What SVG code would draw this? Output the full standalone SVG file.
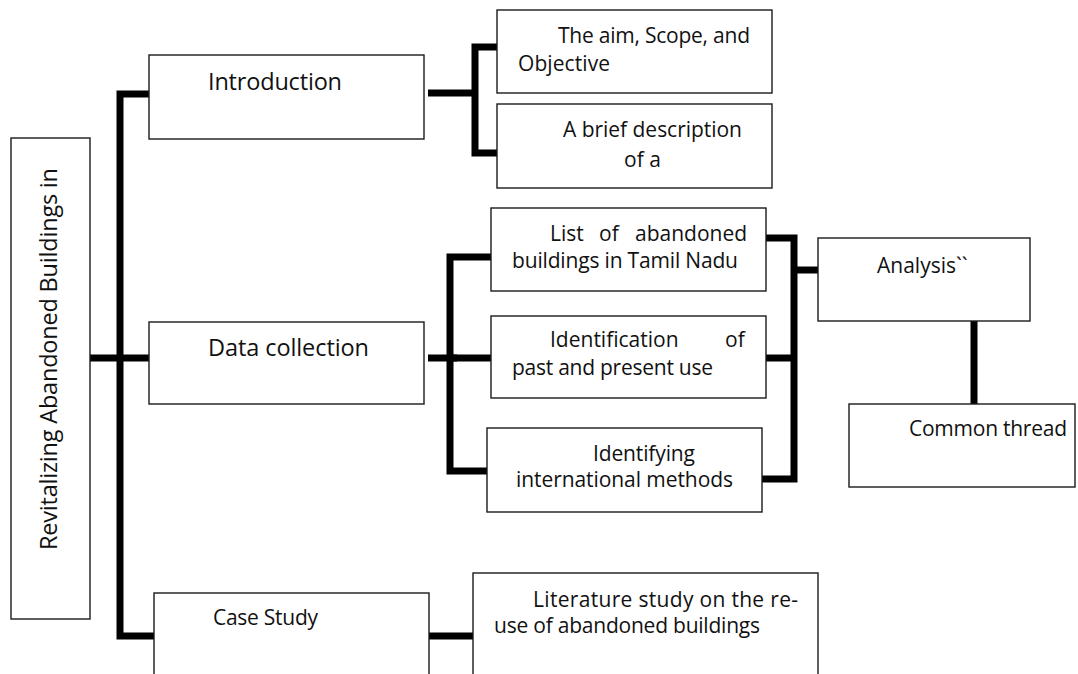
<svg xmlns="http://www.w3.org/2000/svg" width="1078" height="674" viewBox="0 0 1078 674">
<style>
.box{fill:#fff;stroke:#1a1a1a;stroke-width:1.4}
.con{fill:none;stroke:#000;stroke-width:7;stroke-linejoin:miter}
text{font-family:"Open Sans","Liberation Sans",sans-serif;font-size:21px;fill:#111}
.big{font-size:23.5px}
</style>
<rect width="1078" height="674" fill="#fff"/>
<g id="connectors">
<path class="con" d="M149,94 H120 V636 H154"/>
<path class="con" d="M90,358 H149"/>
<path class="con" d="M428,93 H476"/>
<path class="con" d="M502,47 H475 V153 H502"/>
<path class="con" d="M428,358 H457"/>
<path class="con" d="M492,257 H450 V471 H490"/>
<path class="con" d="M450,358 H491"/>
<path class="con" d="M766,238 H794 V479 H762"/>
<path class="con" d="M762,358 H794"/>
<path class="con" d="M794,270 H818"/>
<path class="con" d="M974,321 V404"/>
<path class="con" d="M429,636 H473"/>
</g>
<g id="root">
<rect class="box" x="11" y="138" width="79" height="481"/>
<text class="big" transform="translate(57,550) rotate(-90)" font-size="23" textLength="382">Revitalizing Abandoned Buildings in</text>
</g>
<g id="introduction">
<rect class="box" x="149" y="55" width="275" height="84"/>
<text class="big" x="208" y="90" textLength="134">Introduction</text>
</g>
<g id="aim">
<rect class="box" x="497" y="10" width="275" height="83"/>
<text x="558" y="43" textLength="192">The aim, Scope, and</text>
<text x="518" y="71" textLength="92">Objective</text>
</g>
<g id="brief">
<rect class="box" x="497" y="104" width="275" height="84"/>
<text x="563" y="137" textLength="179">A brief description</text>
<text x="624" y="167">of a</text>
</g>
<g id="data-collection">
<rect class="box" x="149" y="322" width="275" height="82"/>
<text class="big" x="208" y="356" textLength="161">Data collection</text>
</g>
<g id="list">
<rect class="box" x="491" y="208" width="275" height="83"/>
<text y="241"><tspan x="550">List</tspan><tspan x="599">of</tspan><tspan x="635">abandoned</tspan></text>
<text x="512" y="268" textLength="226">buildings in Tamil Nadu</text>
</g>
<g id="identification">
<rect class="box" x="491" y="316" width="275" height="82"/>
<text y="347"><tspan x="550">Identification</tspan><tspan x="725">of</tspan></text>
<text x="512" y="375" textLength="201">past and present use</text>
</g>
<g id="identifying">
<rect class="box" x="487" y="428" width="275" height="84"/>
<text x="593" y="461" textLength="102">Identifying</text>
<text x="516" y="487" textLength="217">international methods</text>
</g>
<g id="analysis">
<rect class="box" x="818" y="238" width="212" height="83"/>
<text x="877" y="273" font-size="22.5">Analysis``</text>
</g>
<g id="common-thread">
<rect class="box" x="849" y="404" width="226" height="83"/>
<text x="909" y="436" textLength="158">Common thread</text>
</g>
<g id="case-study">
<rect class="box" x="154" y="593" width="275" height="100"/>
<text x="213" y="625" textLength="105">Case Study</text>
</g>
<g id="literature">
<rect class="box" x="473" y="573" width="345" height="120"/>
<text x="533" y="607" textLength="265">Literature study on the re-</text>
<text x="494" y="633" textLength="266">use of abandoned buildings</text>
</g>
</svg>
